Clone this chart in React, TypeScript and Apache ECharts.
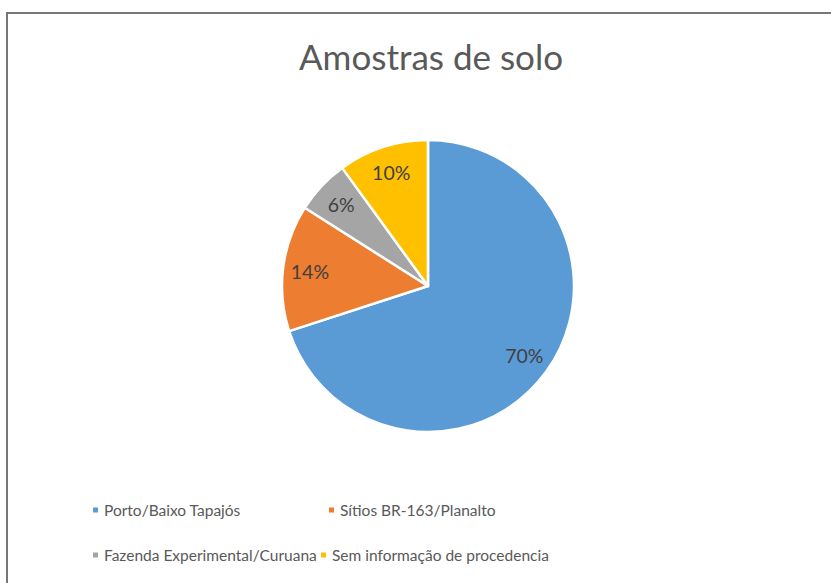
import React, { useEffect, useRef } from "react";
import * as echarts from "echarts";

const categories = [
  "Porto/Baixo Tapajós",
  "Sítios BR-163/Planalto",
  "Fazenda Experimental/Curuana",
  "Sem informação de procedencia",
];
const values = [70, 14, 6, 10];
const colors = ["#5B9BD5", "#ED7D31", "#A5A5A5", "#FFC000"];
const titleText = "Amostras de solo";

export default function App() {
  const ref = useRef<HTMLDivElement>(null);
  useEffect(() => {
    if (!ref.current) return;
    const chart = echarts.init(ref.current, undefined, { renderer: "svg" });
    const data = categories.map((name, i) => ({
      name,
      value: values[i],
      itemStyle: { color: colors[i] },
    }));
    const legendText = { color: "#595959", fontSize: 15.5, fontFamily: "Lato" };
    const legendPos = [
      { left: 91, top: 502 },
      { left: 327, top: 502 },
      { left: 91, top: 547 },
      { left: 319, top: 547 },
    ];
    chart.setOption({
      animation: false,
      title: {
        text: titleText,
        left: 294,
        top: 33,
        textStyle: {
          color: "#595959",
          fontSize: 35,
          fontWeight: "normal",
          fontFamily: "Lato",
        },
      },
      legend: categories.map((c, i) => ({
        data: [c],
        left: legendPos[i].left,
        top: legendPos[i].top,
        icon: "rect",
        itemWidth: 7,
        itemHeight: 7,
        itemGap: 0,
        padding: 0,
        textStyle: legendText,
        selectedMode: false,
      })),
      graphic: [
        {
          type: "rect",
          shape: { x: 7, y: 13, width: 840, height: 620 },
          style: { fill: "none", stroke: "#767676", lineWidth: 2 },
          silent: true,
        },
      ],
      series: [
        {
          type: "pie",
          center: [428, 286],
          radius: [0, 146],
          startAngle: 90,
          clockwise: true,
          data,
          label: { show: false },
          labelLine: { show: false },
          itemStyle: { borderColor: "#ffffff", borderWidth: 2.5 },
          emphasis: { disabled: true },
        },
        {
          type: "pie",
          center: [428, 286],
          radius: [86, 146],
          startAngle: 90,
          clockwise: true,
          data: categories.map((name, i) => ({ name, value: values[i] })),
          itemStyle: { color: "transparent", borderWidth: 0 },
          label: {
            show: true,
            position: "inside",
            formatter: "{c}%",
            color: "#404040",
            fontSize: 19.5,
            fontFamily: "Lato",
          },
          labelLine: { show: false },
          emphasis: { disabled: true },
          silent: true,
          legendHoverLink: false,
        },
      ],
    });
    return () => chart.dispose();
  }, []);
  return (
    <div
      ref={ref}
      style={{ position: "fixed", left: 0, top: 0, width: 831, height: 583, background: "#ffffff" }}
    />
  );
}
